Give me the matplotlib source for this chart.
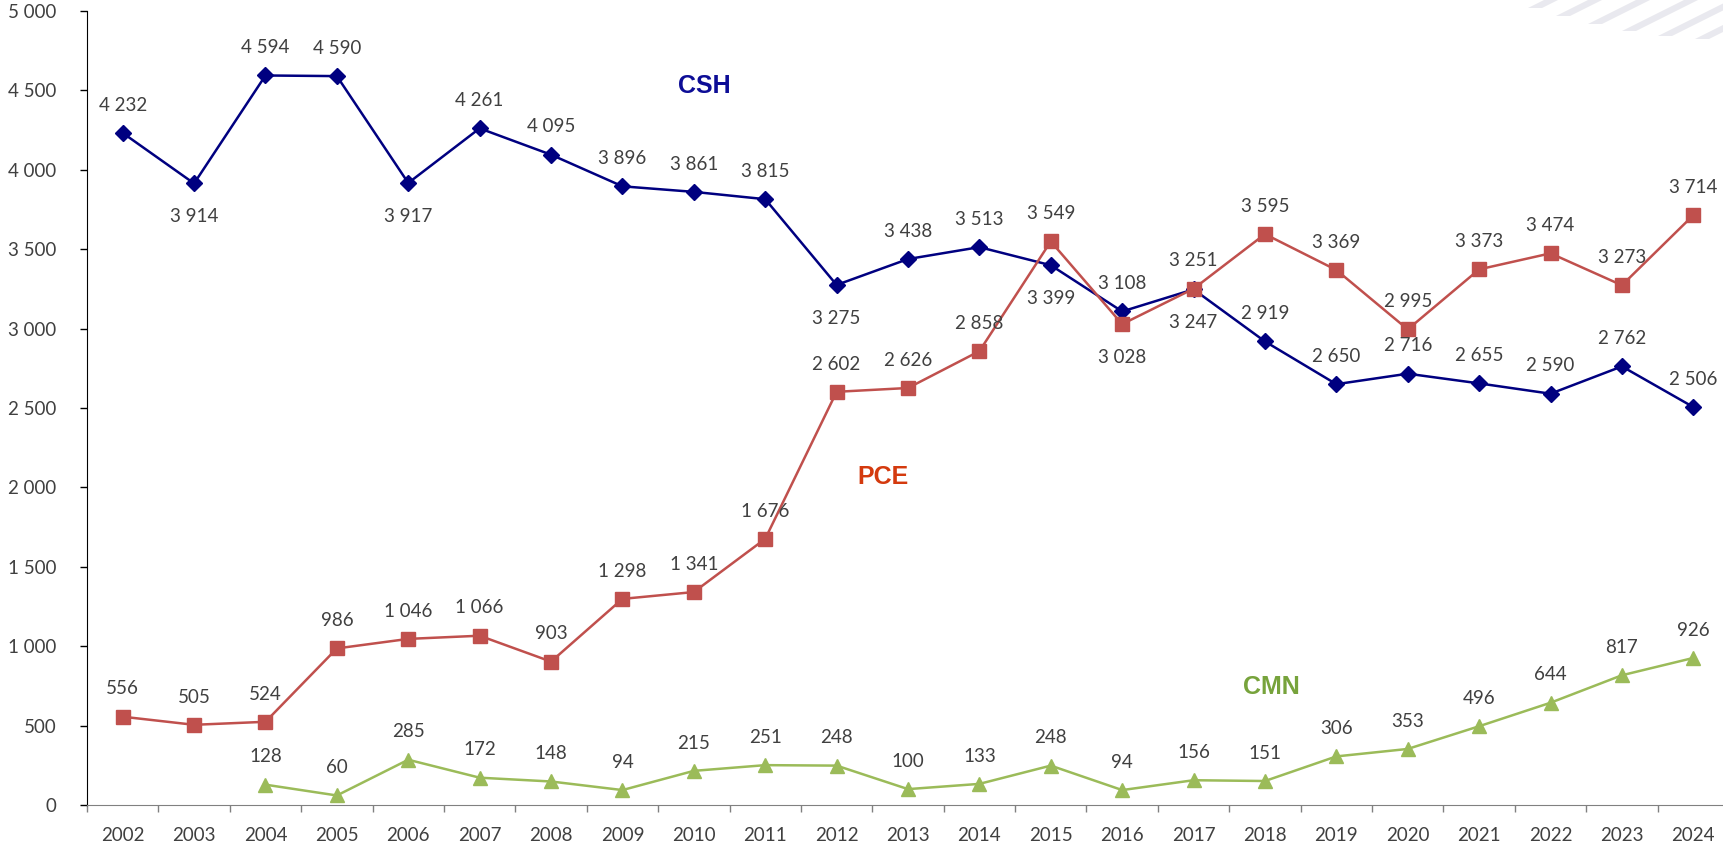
import matplotlib.pyplot as plt
from matplotlib.patches import Polygon
from matplotlib.ticker import FuncFormatter, FixedLocator
import numpy as np

# datos
years = list(range(2002, 2025))
csh = [4232, 3914, 4594, 4590, 3917, 4261, 4095, 3896, 3861, 3815, 3275, 3438,
       3513, 3399, 3108, 3247, 2919, 2650, 2716, 2655, 2590, 2762, 2506]
pce = [556, 505, 524, 986, 1046, 1066, 903, 1298, 1341, 1676, 2602, 2626,
       2858, 3549, 3028, 3251, 3595, 3369, 2995, 3373, 3474, 3273, 3714]
cmn_years = list(range(2004, 2025))
cmn = [128, 60, 285, 172, 148, 94, 215, 251, 248, 100, 133, 248, 94, 156, 151,
       306, 353, 496, 644, 817, 926]

# etiquetas debajo del punto
csh_below = {2003, 2006, 2012, 2015, 2017}
pce_below = {2016}

def fmt(v):
    return f"{v:,}".replace(",", " ")

txt_col = '#404040'
plt.rcParams['font.family'] = ['Lato', 'DejaVu Sans']

fig = plt.figure(figsize=(17.23, 8.46), dpi=100)
ax = fig.add_axes([87 / 1723, 41 / 846, 1642 / 1723, 794 / 846])

# franjas decorativas arriba a la derecha
stripe_bottoms = [(1528, 8), (1556, 16), (1588, 24), (1622, 31), (1658, 36), (1695, 39), (1728, 41)]
for xb, yb in stripe_bottoms:
    w = 14
    dx = yb * 2.0
    pts = [(xb, yb), (xb + w, yb), (xb + w + dx, 0), (xb + dx, 0)]
    pts = [(x / 1723, 1 - y / 846) for x, y in pts]
    fig.patches.append(Polygon(pts, closed=True, transform=fig.transFigure,
                               facecolor='#e9e9ef', edgecolor='none', zorder=0))

x = np.array([years.index(y) for y in years])
xc = np.array([years.index(y) for y in cmn_years])

ax.plot(x, csh, color='#000080', lw=1.8, marker='D', ms=8, zorder=3)
ax.plot(x, pce, color='#c0504d', lw=1.8, marker='s', ms=9.5, zorder=3)
ax.plot(xc, cmn, color='#9bbb59', lw=1.8, marker='^', ms=10.5, zorder=3)

def label(xs, ys, yrs, below):
    for xi, yi, yr in zip(xs, ys, yrs):
        if yr in below:
            ax.annotate(fmt(yi), (xi, yi), xytext=(0, -24), textcoords='offset points',
                        ha='center', va='center', fontsize=13.5, color=txt_col)
        else:
            ax.annotate(fmt(yi), (xi, yi), xytext=(0, 20), textcoords='offset points',
                        ha='center', va='center', fontsize=13.5, color=txt_col)

label(x, csh, years, csh_below)
label(x, pce, years, pce_below)
label(xc, cmn, cmn_years, set())

ax.text(8.14, 4530, 'CSH', fontsize=18, fontweight='bold', color='#0d0d96',
        family=['Liberation Sans'], ha='center', va='center')
ax.text(10.65, 2065, 'PCE', fontsize=18, fontweight='bold', color='#d43a0e',
        family=['Liberation Sans'], ha='center', va='center')
ax.text(16.09, 743, 'CMN', fontsize=18, fontweight='bold', color='#77a33c',
        family=['Liberation Sans'], ha='center', va='center')

ax.set_xlim(-0.5, len(years) - 0.5)
ax.set_ylim(0, 5000)
ax.set_yticks(np.arange(0, 5001, 500))
ax.yaxis.set_major_formatter(FuncFormatter(lambda v, p: fmt(int(v))))
ax.set_xticks(x)
ax.set_xticklabels([str(y) for y in years])
ax.xaxis.set_minor_locator(FixedLocator(np.arange(-0.5, len(years), 1)))
ax.tick_params(axis='x', which='major', length=0, pad=16, labelsize=13.5, labelcolor=txt_col)
ax.tick_params(axis='x', which='minor', length=5, color='#808080', width=1)
ax.tick_params(axis='y', length=5, width=1, pad=17, labelsize=13.5, labelcolor=txt_col)

for s in ['top', 'right']:
    ax.spines[s].set_visible(False)
ax.spines['bottom'].set_color('#808080')
ax.spines['left'].set_color('black')
ax.patch.set_alpha(0)

fig.savefig('out.png', dpi=100)
